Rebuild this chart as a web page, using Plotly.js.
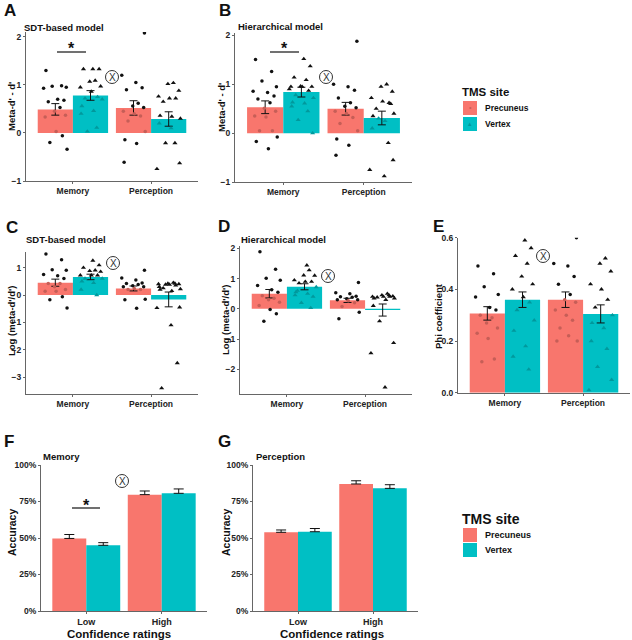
<!DOCTYPE html>
<html>
<head>
<meta charset="utf-8">
<script src="https://cdn.plot.ly/plotly-3.0.1.min.js"></script>
<style>body{margin:0;background:#fff}</style>
</head>
<body>
<div id="chart" style="width:632px;height:640px"></div>
<script>
// categories
var tasks = ['Memory', 'Perception'];
var confLevels = ['Low', 'High'];
var sites = ['Precuneus', 'Vertex'];

// A: SDT-based model, meta-d' - d'
var aMeanPrec = [0.49, 0.52];
var aMeanVert = [0.78, 0.29];
var aSePrec = [0.12, 0.15];
var aSeVert = [0.10, 0.15];
var aMemPrec = [1.30, 0.98, 0.97, 0.95, 0.93, 0.70, 0.68, 0.65, 0.53, 0.45, 0.37, 0.33, 0.03, -0.06, -0.20, -0.34];
var aMemVert = [1.33, 1.33, 1.33, 1.09, 1.07, 0.97, 0.95, 0.86, 0.75, 0.72, 0.70, 0.56, 0.46, 0.40, 0.11, 0.03];
var aPercPrec = [2.08, 1.20, 1.05, 0.94, 0.90, 0.62, 0.56, 0.53, 0.45, 0.40, 0.35, 0.25, 0.03, -0.14, -0.22, -0.61];
var aPercVert = [1.04, 1.02, 0.88, 0.76, 0.72, 0.72, 0.65, 0.30, 0.36, 0.34, 0.20, -0.21, -0.21, -0.63, -0.75, 0.10];

// B: hierarchical model, meta-d' - d'
var bMeanPrec = [0.53, 0.50];
var bMeanVert = [0.84, 0.31];
var bSePrec = [0.13, 0.13];
var bSeVert = [0.10, 0.14];
var bMemPrec = [1.51, 1.26, 1.07, 0.95, 0.86, 0.83, 0.76, 0.70, 0.62, 0.51, 0.45, 0.35, 0.33, 0.05, 0.05, -0.08, -0.17, -0.32];
var bMemVert = [1.52, 1.37, 1.14, 1.09, 0.96, 0.95, 0.95, 0.95, 0.87, 0.78, 0.72, 0.63, 0.61, 0.55, 0.45, 0.27, 0.00, 0.90];
var bPercPrec = [1.88, 1.00, 0.95, 0.88, 0.72, 0.62, 0.55, 0.52, 0.45, 0.40, 0.32, 0.20, 0.05, -0.12, -0.25, -0.45];
var bPercVert = [1.00, 0.95, 0.85, 0.72, 0.65, 0.62, 0.50, 0.40, 0.35, 0.25, 0.10, -0.20, 0.30, -0.55, -0.75, -0.88, 0.60];

// C: SDT-based model, log(meta-d'/d')
var cMeanPrec = [0.45, 0.24];
var cMeanVert = [0.66, -0.16];
var cSePrec = [0.13, 0.09];
var cSeVert = [0.10, 0.27];
var cMemPrec = [1.50, 1.29, 0.92, 0.90, 0.75, 0.70, 0.60, 0.42, 0.42, 0.30, 0.20, 0.14, 0.14, -0.06, -0.17, -0.47];
var cMemVert = [1.26, 1.09, 1.00, 0.90, 0.88, 0.85, 0.72, 0.72, 0.72, 0.60, 0.60, 0.50, 0.44, 0.20, 0.00];
var cPercPrec = [0.90, 0.62, 0.55, 0.44, 0.42, 0.38, 0.34, 0.30, 0.30, 0.24, 0.20, 0.20, -0.15, -0.17, -0.48];
var cPercVert = [0.45, 0.42, 0.40, 0.40, 0.38, 0.35, 0.25, 0.22, 0.20, 0.15, 0.30, 0.42, 0.38, -0.45, -0.47, -1.10, -2.48, -3.40];

// D: hierarchical model, log(meta-d'/d')
var dMeanPrec = [0.50, 0.28];
var dMeanVert = [0.73, -0.04];
var dSePrec = [0.14, 0.07];
var dSeVert = [0.10, 0.20];
var dMemPrec = [1.89, 1.31, 1.01, 0.95, 0.77, 0.63, 0.55, 0.43, 0.35, 0.30, 0.22, 0.11, -0.02, -0.16, -0.41];
var dMemVert = [1.44, 0.40, 0.60, 1.28, 1.11, 1.10, 0.95, 0.90, 0.90, 0.85, 0.72, 0.55, 0.50, 0.45, 0.03, 0.20];
var dPercPrec = [0.87, 0.53, 0.50, 0.42, 0.40, 0.38, 0.33, 0.30, 0.30, 0.27, 0.20, 0.08, -0.11, -0.33];
var dPercVert = [0.50, 0.45, 0.42, 0.40, 0.40, 0.40, 0.38, 0.35, 0.35, 0.30, 0.10, 0.45, -0.41, -1.13, -1.47, -2.60];

// E: phi coefficient
var eMeanPrec = [0.307, 0.36];
var eMeanVert = [0.36, 0.305];
var eSePrec = [0.026, 0.03];
var eSeVert = [0.03, 0.035];
var eMemPrec = [0.49, 0.46, 0.41, 0.38, 0.37, 0.33, 0.32, 0.30, 0.29, 0.27, 0.25, 0.23, 0.21, 0.13, 0.12];
var eMemVert = [0.59, 0.56, 0.53, 0.50, 0.45, 0.42, 0.40, 0.37, 0.35, 0.32, 0.28, 0.24, 0.18, 0.14, 0.09];
var ePercPrec = [0.60, 0.50, 0.49, 0.45, 0.42, 0.38, 0.36, 0.35, 0.32, 0.30, 0.28, 0.25, 0.20, 0.20, 0.22];
var ePercVert = [0.52, 0.50, 0.47, 0.42, 0.40, 0.36, 0.33, 0.30, 0.27, 0.25, 0.20, 0.17, 0.10, 0.05, 0.01];

// F / G: accuracy by confidence
var fMeanPrec = [0.497, 0.797];
var fMeanVert = [0.450, 0.806];
var fSePrec = [0.027, 0.025];
var fSeVert = [0.018, 0.030];
var gMeanPrec = [0.539, 0.870];
var gMeanVert = [0.543, 0.840];
var gSePrec = [0.016, 0.022];
var gSeVert = [0.022, 0.025];

// hand-set horizontal jitter for the dots (positions only)
var jitter = [-0.12, 0.08, -0.04, 0.14, -0.15, 0.03, 0.11, -0.09, 0.06, -0.01, 0.13, -0.13, 0.01, 0.09, -0.07, 0.15, -0.11, 0.04];

var W = 632, H = 640;
var pink = '#F8766D', teal = '#00BFC4';
var inner = ['#c65e57', '#00999d'];
var FONT = 'Liberation Sans, Arial, sans-serif';
function px(v) { return v / W; }
function py(v) { return 1 - v / H; }
function aid(k) { return k === 1 ? '' : String(k); }

var data = [];

function dotPanel(k, means, ses, pts) {
  var xa = 'x' + aid(k), ya = 'y' + aid(k);
  [0, 1].forEach(function (s) {
    data.push({
      type: 'bar', x: [0, 1], y: means[s], width: 0.45, offset: s === 0 ? -0.45 : 0,
      marker: {color: s === 0 ? pink : teal}, xaxis: xa, yaxis: ya,
      showlegend: false, hoverinfo: 'skip',
      error_y: {type: 'data', array: ses[s], color: '#111', thickness: 1, width: 4}
    });
  });
  [0, 1].forEach(function (s) {
    var xs = [], ys = [], cols = [];
    [0, 1].forEach(function (t) {
      var m = means[s][t];
      pts[s][t].forEach(function (v, i) {
        xs.push(t + (s === 0 ? -0.225 : 0.225) + jitter[(i + 5 * s + 3 * t) % jitter.length]);
        ys.push(v);
        var inside = m >= 0 ? (v >= 0 && v <= m) : (v <= 0 && v >= m);
        cols.push(inside ? inner[s] : '#111');
      });
    });
    data.push({
      type: 'scatter', mode: 'markers', x: xs, y: ys, xaxis: xa, yaxis: ya,
      showlegend: false, hoverinfo: 'skip',
      marker: {symbol: s === 0 ? 'circle' : 'triangle-up', size: s === 0 ? 3.5 : 4.5, color: cols}
    });
  });
}

function accPanel(k, means, ses) {
  var xa = 'x' + aid(k), ya = 'y' + aid(k);
  [0, 1].forEach(function (s) {
    data.push({
      type: 'bar', x: [0, 1], y: means[s], width: 0.45, offset: s === 0 ? -0.45 : 0,
      marker: {color: s === 0 ? pink : teal}, xaxis: xa, yaxis: ya,
      showlegend: false, hoverinfo: 'skip',
      error_y: {type: 'data', symmetric: false, array: ses[s], arrayminus: [0, 0], color: '#111', thickness: 1, width: 5}
    });
  });
}

dotPanel(1, [aMeanPrec, aMeanVert], [aSePrec, aSeVert], [[aMemPrec, aPercPrec], [aMemVert, aPercVert]]);
dotPanel(2, [bMeanPrec, bMeanVert], [bSePrec, bSeVert], [[bMemPrec, bPercPrec], [bMemVert, bPercVert]]);
dotPanel(3, [cMeanPrec, cMeanVert], [cSePrec, cSeVert], [[cMemPrec, cPercPrec], [cMemVert, cPercVert]]);
dotPanel(4, [dMeanPrec, dMeanVert], [dSePrec, dSeVert], [[dMemPrec, dPercPrec], [dMemVert, dPercVert]]);
dotPanel(5, [eMeanPrec, eMeanVert], [eSePrec, eSeVert], [[eMemPrec, ePercPrec], [eMemVert, ePercVert]]);
accPanel(6, [fMeanPrec, fMeanVert], [fSePrec, fSeVert]);
accPanel(7, [gMeanPrec, gMeanVert], [gSePrec, gSeVert]);

// panel frames in pixels
var panels = [
  {k: 1, x: [26, 198], y: [32, 181], range: [-1, 2.1], tv: [-1, 0, 1, 2], cats: tasks},
  {k: 2, x: [235, 412], y: [33, 182], range: [-1, 2.05], tv: [-1, 0, 1, 2], cats: tasks},
  {k: 3, x: [26, 198], y: [252, 394], range: [-3.61, 1.57], tv: [-3, -2, -1, 0, 1], cats: tasks},
  {k: 4, x: [240, 412], y: [246, 394], range: [-2.82, 2.08], tv: [-2, -1, 0, 1, 2], cats: tasks},
  {k: 5, x: [458, 630], y: [237.7, 392.7], range: [0, 0.6], tv: [0, 0.2, 0.4, 0.6], tt: ['0.0', '0.2', '0.4', '0.6'], cats: tasks},
  {k: 6, x: [41, 207], y: [465, 611], range: [0, 1], tv: [0, 0.25, 0.5, 0.75, 1], tt: ['0%', '25%', '50%', '75%', '100%'], cats: confLevels},
  {k: 7, x: [253, 418], y: [465, 611], range: [0, 1], tv: [0, 0.25, 0.5, 0.75, 1], tt: ['0%', '25%', '50%', '75%', '100%'], cats: confLevels}
];

var layout = {
  width: W, height: H,
  margin: {l: 0, r: 0, t: 0, b: 0},
  paper_bgcolor: '#fff', plot_bgcolor: 'rgba(0,0,0,0)',
  showlegend: false,
  barmode: 'overlay',
  font: {family: FONT, color: '#222'},
  annotations: [], shapes: []
};

panels.forEach(function (p) {
  var id = aid(p.k);
  var big = p.k >= 6;
  layout['xaxis' + id] = {
    domain: [px(p.x[0]), px(p.x[1])], range: [-0.6, 1.6], anchor: 'y' + id,
    tickvals: [0, 1], ticktext: p.cats,
    showline: true, linecolor: '#666', linewidth: 1,
    ticks: 'outside', ticklen: 2, tickcolor: '#666',
    tickfont: {family: FONT, size: big ? 9 : 8.5, color: '#222', weight: 'bold'},
    showgrid: false, zeroline: false, fixedrange: true
  };
  var ya = {
    domain: [py(p.y[1]), py(p.y[0])], range: p.range, anchor: 'x' + id,
    tickvals: p.tv,
    showline: true, linecolor: '#666', linewidth: 1,
    ticks: 'outside', ticklen: 2, tickcolor: '#666',
    tickfont: {family: FONT, size: 8.5, color: '#222', weight: 'bold'},
    showgrid: false, zeroline: false, fixedrange: true
  };
  if (p.tt) ya.ticktext = p.tt;
  layout['yaxis' + id] = ya;
});

function ann(text, x, y, o) {
  o = o || {};
  layout.annotations.push({
    text: text, xref: 'paper', yref: 'paper', x: px(x), y: py(y),
    xanchor: o.xa || 'center', yanchor: o.ya || 'middle', showarrow: false,
    textangle: o.angle || 0,
    font: {family: FONT, size: o.size || 11, color: o.color || '#111', weight: o.weight || 'bold'}
  });
}

// panel letters
ann('A', 2, 10, {xa: 'left', size: 17});
ann('B', 217, 10, {xa: 'left', size: 17});
ann('C', 4, 228, {xa: 'left', size: 17});
ann('D', 216, 226, {xa: 'left', size: 17});
ann('E', 431, 226, {xa: 'left', size: 17});
ann('F', 2, 441, {xa: 'left', size: 17});
ann('G', 216, 441, {xa: 'left', size: 17});

// panel subtitles
ann('SDT-based model', 22, 27, {xa: 'left', size: 9.5});
ann('Hierarchical model', 236, 26, {xa: 'left', size: 9.5});
ann('SDT-based model', 24, 239, {xa: 'left', size: 9.5});
ann('Hierarchical model', 239, 239, {xa: 'left', size: 9.5});
ann('Memory', 41, 456, {xa: 'left', size: 9.5});
ann('Perception', 254, 456, {xa: 'left', size: 9.5});

// y axis titles
ann("Meta-d' - d'", 11, 107, {angle: -90, size: 9.5});
ann("Meta-d' - d'", 221, 107, {angle: -90, size: 9.5});
ann("Log (meta-d'/d')", 11, 321, {angle: -90, size: 9.5});
ann("Log (meta-d'/d')", 225, 320, {angle: -90, size: 9.5});
ann('Phi coefficient', 438, 316, {angle: -90, size: 9.5});
ann('Accuracy', 12, 533, {angle: -90, size: 10.5});
ann('Accuracy', 226, 533, {angle: -90, size: 10.5});

// x axis titles
ann('Confidence ratings', 119, 634, {size: 11.5});
ann('Confidence ratings', 332, 634, {size: 11.5});

// significance marks
function sig(x0, x1, y) {
  layout.shapes.push({type: 'line', xref: 'paper', yref: 'paper', x0: px(x0), x1: px(x1), y0: py(y), y1: py(y), line: {color: '#111', width: 1.2}});
  ann('*', (x0 + x1) / 2, y - 3, {size: 16});
}
sig(57, 86, 52);
sig(270, 299, 52);
sig(72, 100, 508);

// interaction symbols
function otimes(cx, cy) {
  layout.shapes.push({type: 'circle', xref: 'paper', yref: 'paper', x0: px(cx - 6.5), x1: px(cx + 6.5), y0: py(cy + 6.5), y1: py(cy - 6.5), line: {color: '#333', width: 1}});
  ann('X', cx, cy, {size: 10, weight: 'normal', color: '#333'});
}
otimes(112, 77);
otimes(326, 77);
otimes(113, 263);
otimes(328, 276);
otimes(543, 256);
otimes(122, 481);

// legends
function legend(x, yTitle, titleSize, rows, textSize, marks) {
  ann('TMS site', x - 3, yTitle, {xa: 'left', size: titleSize});
  sites.forEach(function (s, i) {
    var y0 = rows[i];
    layout.shapes.push({type: 'rect', xref: 'paper', yref: 'paper', x0: px(x), x1: px(x + 14), y0: py(y0 + 14), y1: py(y0), fillcolor: i === 0 ? pink : teal, line: {width: 0}});
    if (marks) ann(i === 0 ? '\u2022' : '\u25B4', x + 7, y0 + 7, {size: 7, color: inner[i], weight: 'normal'});
    ann(s, x + 20, y0 + 7, {xa: 'left', size: textSize});
  });
}
legend(463, 92, 11.5, [101, 117], 8.5, true);
legend(463, 519, 14, [528, 543], 9, false);

Plotly.newPlot('chart', data, layout, {staticPlot: true, displayModeBar: false});
</script>
</body>
</html>
